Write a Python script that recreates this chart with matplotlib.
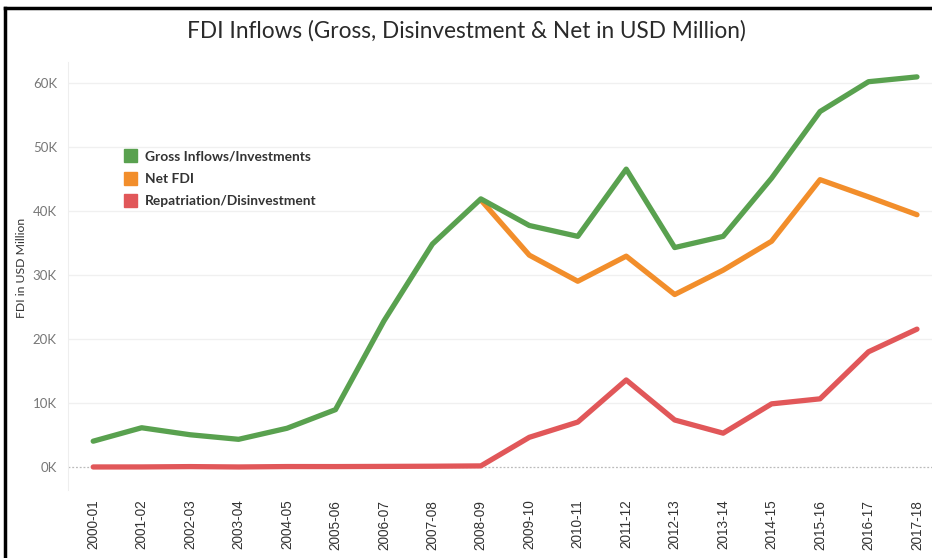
import matplotlib.pyplot as plt
from matplotlib.patches import Patch
from matplotlib.lines import Line2D

plt.rcParams['font.family'] = ['Lato', 'DejaVu Sans']

years = ['2000-01', '2001-02', '2002-03', '2003-04', '2004-05', '2005-06',
         '2006-07', '2007-08', '2008-09', '2009-10', '2010-11', '2011-12',
         '2012-13', '2013-14', '2014-15', '2015-16', '2016-17', '2017-18']

# USD million
gross = [4029, 6130, 5035, 4322, 6051, 8961, 22826, 34843, 41903, 37745,
         36047, 46552, 34298, 36046, 45148, 55559, 60220, 60974]
repatriation = [0, 5, 59, 0, 65, 61, 87, 116, 166, 4637, 7018, 13599,
                7345, 5284, 9864, 10652, 18005, 21544]
net = [g - r for g, r in zip(gross, repatriation)]

GREEN = '#59a14f'
ORANGE = '#f28e2b'
RED = '#e15759'

fig = plt.figure(figsize=(9.32, 5.58), dpi=100)
ax = fig.add_axes([68 / 932, 1 - 490 / 558, 1 - 68 / 932, (490 - 62) / 558])

x = list(range(len(years)))
style = dict(lw=3.8, solid_capstyle='round', solid_joinstyle='round')
# net equals gross until disinvestment picks up in 2008-09, so it sits under the green line
start = years.index('2008-09')
ax.plot(x[start:], net[start:], color=ORANGE, zorder=3, **style)
ax.plot(x, repatriation, color=RED, zorder=3, **style)
ax.plot(x, gross, color=GREEN, zorder=4, **style)

ax.set_xlim(-0.52, 17.31)
ax.set_ylim(-3600, 63300)

yt = [0, 10000, 20000, 30000, 40000, 50000, 60000]
ax.set_yticks(yt)
ax.set_yticklabels([f'{v // 1000}K' for v in yt], color='#777777', fontsize=9.5)
for v in yt[1:]:
    ax.axhline(v, color='#f0f0f0', lw=1, zorder=1)
ax.axhline(0, color='#bbbbbb', lw=0.9, ls=(0, (1.5, 1.5)), zorder=1)

ax.set_xticks(x)
ax.set_xticklabels(years, rotation=90, fontsize=9.8, color='#333333',
                   family=['Liberation Sans', 'DejaVu Sans'])
ax.tick_params(axis='x', length=0, pad=7)
ax.tick_params(axis='y', length=0, pad=8)

for s in ['top', 'right', 'bottom']:
    ax.spines[s].set_visible(False)
ax.spines['left'].set_color('#eeeeee')

fig.text(22 / 932, 1 - 268 / 558, 'FDI in USD Million', rotation=90,
         ha='center', va='center', fontsize=8.8, color='#333333')

handles = [Patch(color=GREEN, label='Gross Inflows/Investments'),
           Patch(color=ORANGE, label='Net FDI'),
           Patch(color=RED, label='Repatriation/Disinvestment')]
fig.legend(handles=handles, loc='upper left', bbox_to_anchor=(112 / 932, 1 - 137 / 558),
           frameon=False, prop={'size': 9.9, 'weight': 'bold'}, handlelength=0.95,
           handleheight=1.05, handletextpad=0.55, labelspacing=0.68, labelcolor='#333333')

fig.suptitle('FDI Inflows (Gross, Disinvestment & Net in USD Million)',
             x=0.5, y=1 - 31 / 558, va='center', fontsize=16.3, color='#2a2a2a')

# frame lines along the left and top edges
fig.add_artist(Line2D([5 / 932, 5 / 932], [0, 1 - 8 / 558], color='black', lw=2.5,
                      transform=fig.transFigure))
fig.add_artist(Line2D([5 / 932, 1], [1 - 8 / 558, 1 - 8 / 558], color='black', lw=2.5,
                      transform=fig.transFigure))

fig.savefig('out.png', dpi=100)
